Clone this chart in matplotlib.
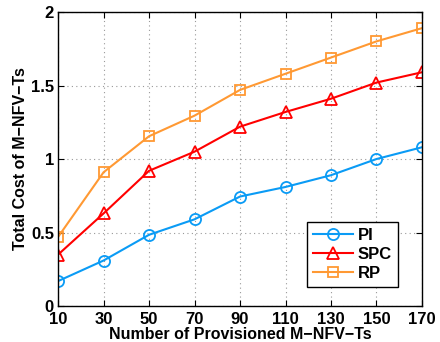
import matplotlib
matplotlib.use('Agg')
import matplotlib.pyplot as plt

# Datos
provisionados = [10, 30, 50, 70, 90, 110, 130, 150, 170]
costo_pi = [0.17, 0.31, 0.485, 0.59, 0.745, 0.81, 0.89, 1.0, 1.08]
costo_spc = [0.35, 0.63, 0.92, 1.05, 1.22, 1.32, 1.41, 1.52, 1.59]
costo_rp = [0.47, 0.91, 1.155, 1.295, 1.47, 1.58, 1.69, 1.80, 1.89]

plt.rcParams['font.family'] = ['Liberation Sans', 'DejaVu Sans']
plt.rcParams['font.weight'] = 'bold'

fig = plt.figure(figsize=(4.4, 3.42), dpi=100)
ax = fig.add_axes([0.132, 0.105, 0.827, 0.860])

ax.plot(provisionados, costo_pi, color='#0A9BF5', marker='o', markersize=8,
        markerfacecolor='none', markeredgewidth=1.3, linewidth=1.5, label='PI')
ax.plot(provisionados, costo_spc, color='#FF0000', marker='^', markersize=9,
        markerfacecolor='none', markeredgewidth=1.3, linewidth=1.5, label='SPC')
ax.plot(provisionados, costo_rp, color='#FF9933', marker='s', markersize=7,
        markerfacecolor='none', markeredgewidth=1.3, linewidth=1.5, label='RP')

ax.set_xlim(10, 170)
ax.set_ylim(0, 2)
ax.set_xticks(provisionados)
ax.set_yticks([0, 0.5, 1, 1.5, 2])
ax.set_yticklabels(['0', '0.5', '1', '1.5', '2'])
ax.tick_params(direction='in', labelsize=12, length=4, top=True, right=True, pad=3)
ax.tick_params(axis='x', pad=4)
ax.grid(True, linestyle=(0, (1, 3)), color='#999999', linewidth=0.8)
for s in ax.spines.values():
    s.set_linewidth(1.0)

ax.set_xlabel('Number of Provisioned M\u2212NFV\u2212Ts', fontsize=11.5, fontweight='bold', labelpad=0)
ax.set_ylabel('Total Cost of M\u2212NFV\u2212Ts', fontsize=11.5, fontweight='bold', labelpad=2)

leg = ax.legend(loc='lower right', bbox_to_anchor=(0.934, 0.065), borderaxespad=0,
                fontsize=12, fancybox=False, edgecolor='black', framealpha=1,
                handlelength=2.4, borderpad=0.35, labelspacing=0.25, handletextpad=0.3)
leg.get_frame().set_linewidth(1.0)

fig.savefig('out.png', dpi=100)
